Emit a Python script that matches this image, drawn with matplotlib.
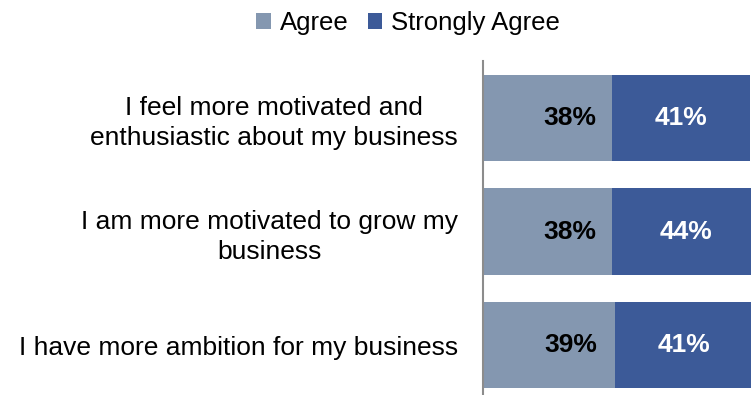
import matplotlib.pyplot as plt
import numpy as np

plt.rcParams['font.family'] = ['Liberation Sans', 'DejaVu Sans']

# survey statements, top to bottom
statements = [
    "I feel more motivated and\nenthusiastic about my business",
    "I am more motivated to grow my\nbusiness",
    "I have more ambition for my business",
]
agree = [38, 38, 39]
strongly_agree = [41, 44, 41]

agree_color = "#8497B0"
strong_color = "#3C5A98"

fig = plt.figure(figsize=(7.51, 3.95), dpi=100)
# plot area runs a little past the right and bottom edges of the canvas
ax = fig.add_axes([483 / 751, -7 / 395, 268 / 751, 341 / 395])

y = np.arange(len(statements))
bar_h = 0.76
b1 = ax.barh(y, agree, height=bar_h, color=agree_color, label="Agree")
b2 = ax.barh(y, strongly_agree, left=agree, height=bar_h, color=strong_color,
             label="Strongly Agree")

for i in range(len(statements)):
    ax.annotate(f"{agree[i]}%", (agree[i] / 2, y[i]), xytext=(16, 0),
                textcoords="offset points", ha="center", va="center",
                fontsize=19, fontweight="bold", color="black")
    ax.annotate(f"{strongly_agree[i]}%", (agree[i] + strongly_agree[i] / 2, y[i]),
                ha="center", va="center", fontsize=19, fontweight="bold",
                color="white")

ax.set_xlim(0, 79.2)
ax.set_ylim(len(statements) - 0.5, -0.5)
ax.set_xticks([])
ax.set_yticks(y)
ax.set_yticklabels(statements, fontsize=19, multialignment="center", linespacing=1.3)
ax.tick_params(axis="y", length=0, pad=18)

for side in ["top", "right", "bottom"]:
    ax.spines[side].set_visible(False)
ax.spines["left"].set_color("#8c8c8c")
ax.spines["left"].set_linewidth(1.5)

fig.legend(handles=[b1, b2], loc="center", bbox_to_anchor=(408 / 751, 1 - 23 / 395),
           ncol=2, frameon=False, fontsize=18.5, handlelength=0.55, handleheight=0.55,
           handletextpad=0.35, columnspacing=0.75)

fig.savefig("out.png", dpi=100)
